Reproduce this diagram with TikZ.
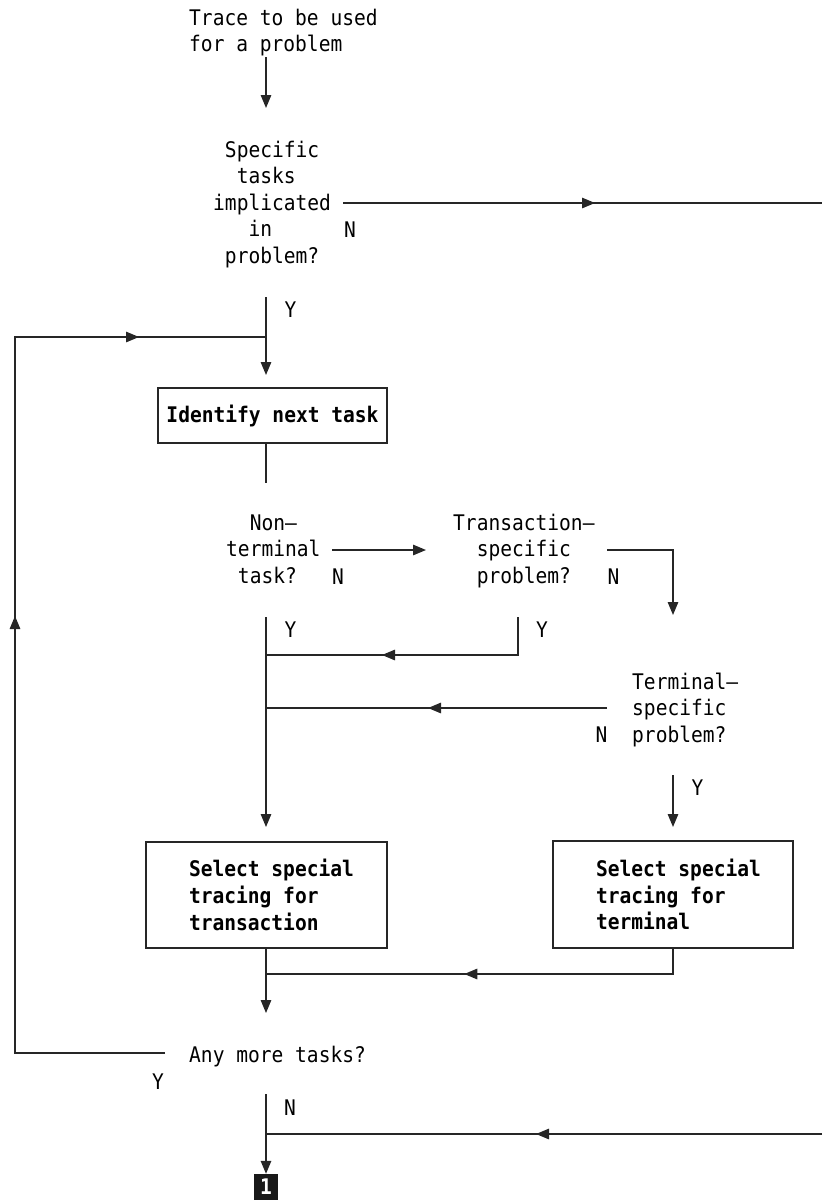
\documentclass[tikz,border=0pt]{standalone}
\usepackage{fontspec}
\setmainfont[FakeStretch=0.91]{DejaVu Sans Mono}
\usetikzlibrary{arrows.meta,decorations.markings}
\newcommand\mylines[1]{\parbox[t]{12cm}{#1}}
\tikzset{
  flowhead/.tip={Triangle[length=13pt,width=10.5pt]},
  txt/.style={inner sep=0pt, anchor=base west, font=\fontsize{21.5}{26.6}\selectfont},
  lab/.style={inner sep=0pt, anchor=base, font=\fontsize{21.5}{26.6}\selectfont},
  flow/.style={line width=1.4pt, draw=black!85},
  endtip/.style={-{flowhead}},
  midtip/.style={postaction={decorate,decoration={markings,mark=at position #1 with {\arrow{flowhead}}}}},
  midtwo/.style 2 args={postaction={decorate,decoration={markings,mark=at position #1 with {\arrow{flowhead}},mark=at position #2 with {\arrow{flowhead}}}}},
  procbox/.style={draw=black!85, line width=1.4pt, inner sep=0pt, font=\fontsize{21.5}{26.6}\selectfont\bfseries},
}
\begin{document}
\begin{tikzpicture}[x=1pt,y=-1pt]
\useasboundingbox (0,0) rectangle (822,1202);
% texts
\node[txt] (start) at (189,25) {\mylines{Trace to be used\\for a problem}};
\node[txt] (q1) at (213,157) {\mylines{\hphantom{x}Specific\\\hphantom{xx}tasks\\implicated\\\hphantom{xxx}in\\\hphantom{x}problem?}};
\node[lab] (q1n) at (350,237) {N};
\node[lab] (q1y) at (290.5,317) {Y};
\node[procbox, minimum width=229pt, minimum height=55pt] (b1) at (272.5,415.5) {Identify next task};
\node[txt] (q2) at (226,530) {\mylines{\hphantom{xx}Non—\\terminal\\\hphantom{x}task?}};
\node[lab] (q2n) at (338,584) {N};
\node[txt] (q3) at (453,530) {\mylines{Transaction—\\\hphantom{xx}specific\\\hphantom{xx}problem?}};
\node[lab] (q3n) at (613.5,584) {N};
\node[lab] (q2y) at (290.5,637) {Y};
\node[lab] (q3y) at (542,637) {Y};
\node[txt] (q4) at (632,689) {\mylines{Terminal—\\specific\\problem?}};
\node[lab] (q4n) at (601.5,742) {N};
\node[lab] (q4y) at (697.5,795) {Y};
\node[procbox, minimum width=241pt, minimum height=106pt] (b2) at (266.5,895)
  {\hbox to 241pt{\hspace*{43pt}\parbox[c]{190pt}{Select special\\tracing for\\transaction}\hss}};
\node[procbox, minimum width=240pt, minimum height=107pt] (b3) at (673,894.5)
  {\hbox to 240pt{\hspace*{43pt}\parbox[c]{190pt}{Select special\\tracing for\\terminal}\hss}};
\node[txt] (q5) at (189,1062) {Any more tasks?};
\node[lab] (q5y) at (158,1089) {Y};
\node[lab] (q5n) at (290,1115) {N};
\node[fill=black!90, text=white, inner sep=0pt, minimum width=24pt, minimum height=26pt,
      font=\fontsize{21.5}{26.6}\selectfont\bfseries] (one) at (266,1187) {1};
% junction coordinates
\coordinate (c0a) at (266,57);  \coordinate (c0b) at (266,108);
\coordinate (c1a) at (343,203); \coordinate (c1b) at (822,203);
\coordinate (c2a) at (266,297); \coordinate (c2b) at (266,375);
\coordinate (c3) at (15,337);   \coordinate (c4) at (15,1053);
\coordinate (c5) at (165,1053); \coordinate (c6) at (266,337);
\coordinate (c7) at (266,483);
\coordinate (c8a) at (332,550); \coordinate (c8b) at (426,550);
\coordinate (c9a) at (607,550); \coordinate (c9b) at (673,550); \coordinate (c9c) at (673,615);
\coordinate (c10a) at (266,617); \coordinate (c10b) at (266,827);
\coordinate (c11a) at (518,617); \coordinate (c11b) at (518,655); \coordinate (c11c) at (266,655);
\coordinate (c12a) at (607,708); \coordinate (c12b) at (266,708);
\coordinate (c13a) at (673,775); \coordinate (c13b) at (673,827);
\coordinate (c14a) at (673,974); \coordinate (c14b) at (266,974);
\coordinate (c15a) at (266,1013);
\coordinate (c16a) at (266,1094);
\coordinate (c17a) at (822,1134); \coordinate (c17b) at (266,1134);
% connectors
\draw[flow,endtip] (c0a) -- (c0b);
\draw[flow,midtip=252pt] (c1a) -- (c1b);
\draw[flow,endtip] (c2a) -- (c2b);
\draw[flow,midtwo={587pt}{990pt}] (c5) -- (c4) -- (c3) -- (c6);
\draw[flow] (b1.south -| c7) -- (c7);
\draw[flow,endtip] (c8a) -- (c8b);
\draw[flow,endtip] (c9a) -- (c9b) -- (c9c);
\draw[flow,endtip] (c10a) -- (c10b);
\draw[flow,midtip=174pt] (c11a) -- (c11b) -- (c11c);
\draw[flow,midtip=179pt] (c12a) -- (c12b);
\draw[flow,endtip] (c13a) -- (c13b);
\draw[flow,midtip=234pt] (b3.south -| c14a) -- (c14a) -- (c14b);
\draw[flow,endtip] (b2.south -| c15a) -- (c15a);
\draw[flow,endtip] (c16a) -- (one.north);
\draw[flow,midtip=286pt] (c17a) -- (c17b);
\end{tikzpicture}
\end{document}
